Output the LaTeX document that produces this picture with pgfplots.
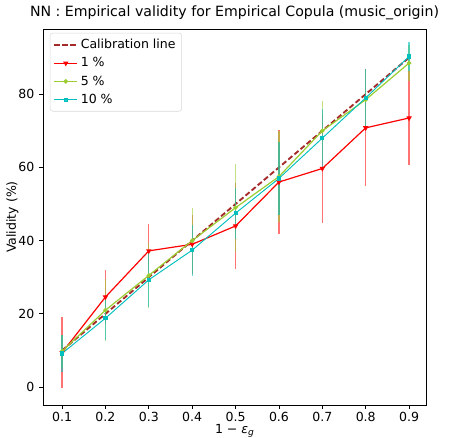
\documentclass[border=0pt]{standalone}
\usepackage{pgfplots}
\pgfplotsset{compat=1.18}
\usepackage{fontspec}
\setmainfont{DejaVu Sans}
\definecolor{calib}{HTML}{A52A2A}
\definecolor{ygreen}{HTML}{9ACD32}
\definecolor{turq}{HTML}{00BFBF}
\begin{document}
\begin{tikzpicture}
\begin{axis}[
  scale only axis,
  width=287.25pt, height=282pt,
  xmin=0.056, xmax=0.939,
  ymin=-4.9, ymax=97.8,
  xtick={0.1,0.2,0.3,0.4,0.5,0.6,0.7,0.8,0.9},
  xticklabels={0.1,0.2,0.3,0.4,0.5,0.6,0.7,0.8,0.9},
  ytick={0,20,40,60,80},
  tick align=outside, tick pos=left,
  major tick length=3pt,
  tick style={black, line width=0.6pt},
  axis line style={line width=0.6pt},
  /pgf/number format/assume math mode=true,
  ticklabel style={font=\fontsize{9.4}{11}\selectfont},
  xticklabel style={inner sep=2pt},
  label style={font=\fontsize{9.4}{11}\selectfont},
  title style={font=\fontsize{10.6}{12}\selectfont, yshift=-3pt},
  title={NN : Empirical validity for Empirical Copula (music\_origin)},
  xlabel={1 − \textit{ε}\raisebox{-0.25ex}{\fontsize{6.8}{7}\selectfont\textit{g}}},
  ylabel={Validity (\%)},
  xlabel style={at={(axis description cs:0.5,0)}, anchor=north, yshift=-13.6pt, inner sep=0.6pt},
  ylabel style={yshift=-7pt},
  legend style={at={(0.018,0.99)}, anchor=north west, font=\fontsize{9.4}{11}\selectfont,
    draw=black!15, rounded corners=2pt, fill=white, fill opacity=0.8, text opacity=1,
    inner sep=2.5pt, row sep=1.2pt},
  legend cell align=left,
  legend image post style={xscale=1.0},
  clip=false,
]
\addplot[calib, line width=1.4pt, dash pattern=on 4pt off 2pt] coordinates {
(0.1,10) (0.2,20) (0.3,30) (0.4,40) (0.5,50) (0.6,60) (0.7,70) (0.8,80) (0.9,90)};
\addlegendentry{Calibration line}

\addplot[red, line width=0.9pt, mark=triangle*, mark options={rotate=180, scale=0.75},
  error bars/.cd, y dir=both, y explicit, error mark=none,
  error bar style={red, opacity=0.55, line width=0.9pt}]
  coordinates {
(0.1,9.4) +- (0,9.7)
(0.2,24.6) +- (0,7.4)
(0.3,37.2) +- (0,7.3)
(0.4,39.0) +- (0,8.0)
(0.5,44.0) +- (0,11.8)
(0.6,56.0) +- (0,14.3)
(0.7,59.7) +- (0,15.0)
(0.8,70.8) +- (0,16.0)
(0.9,73.5) +- (0,12.8)};
\addlegendentry{1 \%}

\addplot[ygreen, line width=0.9pt, mark=*, mark options={scale=0.6},
  error bars/.cd, y dir=both, y explicit, error mark=none,
  error bar style={ygreen, opacity=0.6, line width=0.9pt}]
  coordinates {
(0.1,9.8) +- (0,4.5)
(0.2,21.0) +- (0,8.4)
(0.3,30.5) +- (0,8.9)
(0.4,40.0) +- (0,8.9)
(0.5,49.0) +- (0,12.0)
(0.6,57.5) +- (0,12.5)
(0.7,70.0) +- (0,8.0)
(0.8,78.5) +- (0,8.0)
(0.9,88.5) +- (0,5.0)};
\addlegendentry{5 \%}

\addplot[turq, line width=0.7pt, mark=square*, mark options={scale=0.6},
  error bars/.cd, y dir=both, y explicit, error mark=none,
  error bar style={turq, opacity=0.6, line width=0.9pt}]
  coordinates {
(0.1,9.2) +- (0,5.0)
(0.2,18.8) +- (0,6.0)
(0.3,29.3) +- (0,7.5)
(0.4,37.4) +- (0,7.0)
(0.5,47.5) +- (0,7.0)
(0.6,57.0) +- (0,10.0)
(0.7,68.0) +- (0,8.0)
(0.8,79.0) +- (0,8.0)
(0.9,90.3) +- (0,4.0)};
\addlegendentry{10 \%}
\end{axis}
\pgfresetboundingbox
\path (-32.25pt,-24.75pt) rectangle (307.5pt,303.75pt);
\end{tikzpicture}
\end{document}
